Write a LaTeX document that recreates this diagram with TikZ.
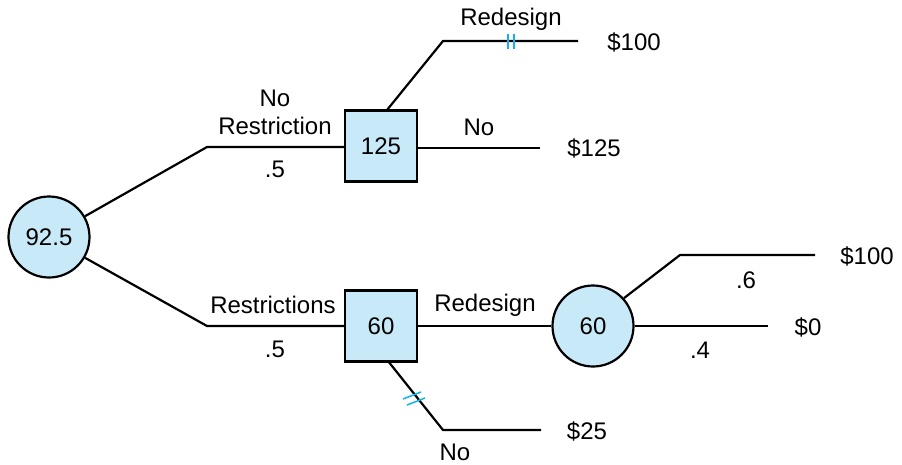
\documentclass[tikz,border=0pt]{standalone}
\usepackage{fontspec}
\setmainfont{Liberation Sans}
\definecolor{nodefill}{HTML}{C8E9F8}
\definecolor{hashc}{HTML}{12B2EA}
\begin{document}
\begin{tikzpicture}[x=1pt,y=-1pt,
  every node/.style={font=\fontsize{24}{28}\selectfont, inner sep=0pt},
  chance/.style={circle, draw=black, line width=2.2pt, fill=nodefill, minimum size=81pt},
  decision/.style={rectangle, draw=black, line width=2.2pt, fill=nodefill, minimum width=72pt, minimum height=71pt},
  branch/.style={line width=2.2pt},
  hash/.style={draw=hashc, line width=1.5pt},
  lbl/.style={anchor=center}]
\useasboundingbox (0,0) rectangle (902,464);
% nodes
\node[chance] (c0) at (49,237) {92.5};
\node[decision] (b1) at (381,146) {125};
\node[decision] (b2) at (381,326) {60};
\node[chance] (c1) at (593,326) {60};
% elbow coordinates
\coordinate (k1) at (207,147);
\coordinate (k2) at (207,326);
\coordinate (k3) at (443,41);
\coordinate (e3) at (578,41);
\coordinate (e4) at (540,148);
\coordinate (k5) at (680,255);
\coordinate (e5) at (815,255);
\coordinate (e6) at (768,326);
\coordinate (k7) at (443,430);
\coordinate (e7) at (541,430);
\coordinate (s1) at (387,110);
\coordinate (s2) at (388,361);
% branches
\draw[branch] (c0.30) -- (k1) -- (b1.west |- k1);
\draw[branch] (c0.-30) -- (k2) -- (b2.west);
\draw[branch] (s1) -- (k3) -- (e3);
\draw[branch] (b1.east |- e4) -- (e4);
\draw[branch] (b2.east) -- (c1.west);
\draw[branch] (c1.42) -- (k5) -- (e5);
\draw[branch] (c1.east) -- (e6);
\draw[branch] (s2) -- (k7) -- (e7);
% hash marks
\draw[hash] (508,34) -- (508,49);
\draw[hash] (514,34) -- (514,49);
\draw[hash] (403,399) -- (421,392);
\draw[hash] (407,405) -- (425,398);
% labels
\node[lbl] (t1) at (275,98) {No};
\node[lbl] (t2) at (275,126) {Restriction};
\node[lbl] (t3) at (275,169) {.5};
\node[lbl] (t4) at (273,305) {Restrictions};
\node[lbl] (t5) at (275,349) {.5};
\node[lbl] (t6) at (511,19) {Redesign};
\node[lbl] (t7) at (634,42) {\$100};
\node[lbl] (t8) at (479,127) {No};
\node[lbl] (t9) at (594,148) {\$125};
\node[lbl] (t10) at (485,305) {Redesign};
\node[lbl] (t11) at (867,256) {\$100};
\node[lbl] (t12) at (746,280) {.6};
\node[lbl] (t13) at (808,327) {\$0};
\node[lbl] (t14) at (700,350) {.4};
\node[lbl] (t15) at (587,431) {\$25};
\node[lbl] (t16) at (455,452) {No};
\end{tikzpicture}
\end{document}
